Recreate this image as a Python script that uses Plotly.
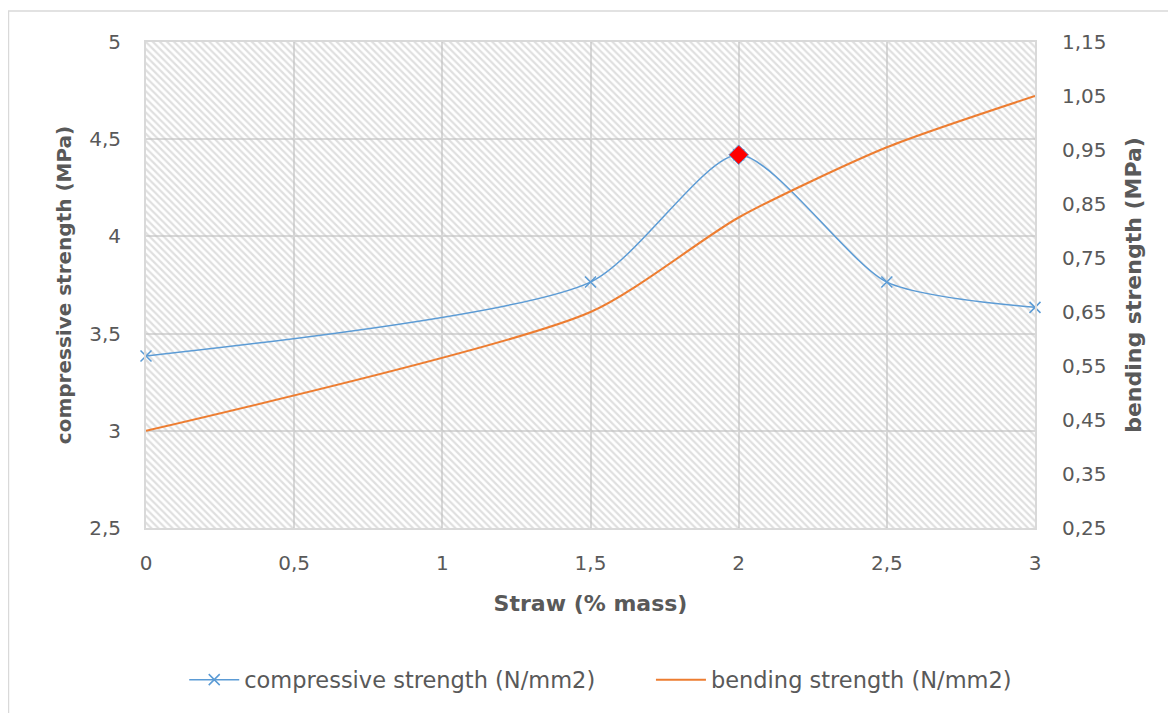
import plotly.graph_objects as go

straw = [0, 1.5, 2, 2.5, 3]
compressive = [3.385, 3.765, 4.42, 3.765, 3.635]
bending = [0.43, 0.65, 0.825, 0.955, 1.05]
peak_x = [2]
peak_y = [4.42]

x_range = [0, 3]
y_range = [2.5, 5]
y2_range = [0.25, 1.15]

BLUE = "#5b9bd5"
ORANGE = "#ed7d31"
TXT = "#595959"
GRID = "#d9d9d9"
FONT = "DejaVu Sans"

fig = go.Figure()

# hatched plot-area background
fig.add_trace(go.Scatter(
    x=[x_range[0], x_range[1], x_range[1], x_range[0], x_range[0]],
    y=[y_range[0], y_range[0], y_range[1], y_range[1], y_range[0]],
    fill="toself", mode="none", showlegend=False, hoverinfo="skip",
    fillcolor="rgba(0,0,0,0)",
    fillpattern=dict(shape="\\", fgcolor="#c0c0c0", bgcolor="rgba(0,0,0,0)",
                     size=5, solidity=0.45),
))

fig.add_trace(go.Scatter(
    x=straw, y=compressive, mode="lines+markers", cliponaxis=False,
    name="compressive strength (N/mm2)", legend="legend",
    line=dict(color=BLUE, width=1.5, shape="spline", smoothing=0.68),
    marker=dict(symbol="x-thin", size=11, line=dict(color=BLUE, width=1.5), color=BLUE),
))
fig.add_trace(go.Scatter(
    x=straw, y=bending, mode="lines", yaxis="y2",
    name="bending strength (N/mm2)", legend="legend2",
    line=dict(color=ORANGE, width=2, shape="spline", smoothing=0.68),
))
fig.add_trace(go.Scatter(
    x=peak_x, y=peak_y, mode="markers", showlegend=False, cliponaxis=False,
    marker=dict(symbol="diamond", size=15, color="red", line=dict(color=BLUE, width=1)),
))

legend_common = dict(orientation="h", y=-0.3128, yanchor="middle", xanchor="left",
                     font=dict(family=FONT, size=22.5, color=TXT), itemwidth=50,
                     bgcolor="rgba(0,0,0,0)")

fig.update_layout(
    width=1168, height=705,
    margin=dict(l=138, r=141, t=34, b=185),
    paper_bgcolor="white", plot_bgcolor="white",
    separators=", ",
    font=dict(family=FONT, color=TXT, size=20),
    xaxis=dict(range=x_range, dtick=0.5, tick0=0, showgrid=True, gridcolor=GRID, gridwidth=2,
               showline=True, linecolor=GRID, linewidth=2, mirror=True, zeroline=False,
               ticks="", ticklabelstandoff=16,
               title=dict(text="<b>Straw (% mass)</b>", font=dict(family=FONT, size=22, color=TXT),
                          standoff=22)),
    yaxis=dict(range=y_range, dtick=0.5, tick0=2.5, showgrid=True, gridcolor=GRID, gridwidth=2,
               showline=True, linecolor=GRID, linewidth=2, mirror=True, zeroline=False,
               ticks="", ticklabelstandoff=19,
               title=dict(text="<b>compressive strength (MPa)</b>", font=dict(family=FONT, size=20, color=TXT),
                          standoff=12)),
    yaxis2=dict(range=y2_range, dtick=0.1, tick0=0.25, overlaying="y", side="right",
                showgrid=False, zeroline=False, ticks="", ticklabelstandoff=26,
                tickformat=".2f",
                title=dict(text="<b>bending strength (MPa)</b>", font=dict(family=FONT, size=22, color=TXT),
                           standoff=20)),
    legend=dict(x=0.043, **legend_common),
    legend2=dict(x=0.568, **legend_common),
    shapes=[dict(type="rect", xref="paper", yref="paper",
                 x0=-0.1547, x1=1.2, y0=-0.5, y1=1.0638,
                 line=dict(color=GRID, width=1.5), fillcolor="rgba(0,0,0,0)", layer="below")],
)

fig.write_html("out.html")
